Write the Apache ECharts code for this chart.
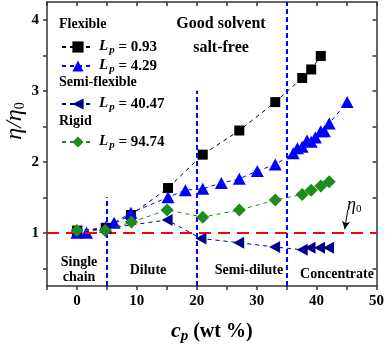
<!DOCTYPE html>
<html>
<head>
<meta charset="utf-8">
<script src="https://cdn.jsdelivr.net/npm/echarts@6/dist/echarts.min.js"></script>
<style>
html,body{margin:0;padding:0;background:#fff;}
#chart{width:387px;height:349px;}
</style>
</head>
<body>
<div id="chart"></div>
<script>
// ---- data ----
const seriesNames = ['Lp = 0.93', 'Lp = 4.29', 'Lp = 40.47', 'Lp = 94.74'];
const flexible093 = [[0,1.03],[4.8,1.07],[9,1.25],[15.2,1.63],[21,2.10],[27.1,2.44],[33.1,2.84],[37.6,3.18],[39.1,3.30],[40.7,3.49]];
const flexible429 = [[0,1.0],[1.6,1.0],[4.8,1.08],[6.2,1.14],[9,1.28],[15.2,1.50],[18.1,1.60],[21,1.62],[24.1,1.70],[27.1,1.76],[30.1,1.87],[33.1,1.96],[36.1,2.12],[36.8,2.19],[37.6,2.21],[38.4,2.30],[39.1,2.28],[39.8,2.34],[40.7,2.43],[41.3,2.43],[42.1,2.54],[45.1,2.84]];
const semiFlexible = [[0,1.02],[4.8,1.06],[15.05,1.18],[20.7,0.92],[27,0.86],[33,0.80],[37.6,0.76],[38.9,0.79],[40.5,0.79],[42,0.79]];
const rigid = [[0,1.03],[4.7,1.03],[9.1,1.15],[15.05,1.32],[21,1.22],[27.1,1.32],[33.1,1.46],[37.6,1.54],[39.1,1.60],[40.7,1.66],[42.1,1.72]];
const xTickValues = [-5,0,5,10,15,20,25,30,35,40,45,50];
const xLabelValues = [0,10,20,30,40,50];
const yTickValues = [0.5,1,1.5,2,2.5,3,3.5,4];
const yLabelValues = [1,2,3,4];
const regionBounds = [5, 20, 35];
const regionBoundTops = [1.5, 3.0, 4.25];
const eta0Level = 1;
const arrowFrom = [45.2, 1.32];
const arrowTo = [44.7, 1.05];

const FONT = '"Liberation Serif","Times New Roman",serif';
const chart = echarts.init(document.getElementById('chart'));

function legendFmt(name){
  const v = name.split('= ')[1];
  return '{i|L}{s|p}{n| = ' + v + '}';
}
const legendRich = {
  i:{fontFamily:FONT,fontWeight:'bold',fontStyle:'italic',fontSize:15,color:'#000',verticalAlign:'top',lineHeight:16},
  s:{fontFamily:FONT,fontWeight:'bold',fontStyle:'italic',fontSize:11,color:'#000',padding:[7,0,0,1],lineHeight:16},
  n:{fontFamily:FONT,fontWeight:'bold',fontSize:15,color:'#000',lineHeight:16}
};
const legendTops = [33, 52, 90, 128];
const legends = seriesNames.map((n, k) => ({
  data:[n], left:56, top:legendTops[k], itemWidth:32, itemHeight:14, itemGap:4,
  formatter: legendFmt, textStyle:{rich:legendRich}
}));

const axisLineStyle = {color:'#333', width:1.5};
const labelStyle = {fontFamily:FONT, fontWeight:'bold', fontSize:15, color:'#000'};

const boundLines = regionBounds.map((b,k)=>[{coord:[b,0.25]},{coord:[b,regionBoundTops[k]]}]);

chart.setOption({
  animation:false,
  backgroundColor:'#fff',
  grid:{left:47, right:9, top:2, bottom:59, containLabel:false},
  legend: legends,
  xAxis:[{
    type:'value', min:-5, max:50, position:'bottom',
    axisLine:{onZero:false, lineStyle:axisLineStyle},
    axisTick:{inside:false, length:4, lineStyle:axisLineStyle, customValues:xTickValues},
    axisLabel:Object.assign({margin:8, customValues:xLabelValues}, labelStyle),
    splitLine:{show:false},
    name:'{c|c}{p|p}{t| (wt %)}', nameLocation:'middle', nameGap:33,
    nameTextStyle:{rich:{
      c:{fontFamily:FONT,fontWeight:'bold',fontStyle:'italic',fontSize:22,color:'#000'},
      p:{fontFamily:FONT,fontWeight:'bold',fontStyle:'italic',fontSize:15,color:'#000',padding:[10,0,0,0]},
      t:{fontFamily:FONT,fontWeight:'bold',fontSize:20,color:'#000'}
    }}
  },{
    type:'value', min:-5, max:50, position:'top',
    axisLine:{onZero:false, lineStyle:axisLineStyle},
    axisTick:{inside:true, length:4, lineStyle:axisLineStyle, customValues:xTickValues},
    axisLabel:{show:false}, splitLine:{show:false}
  }],
  yAxis:[{
    type:'value', min:0.25, max:4.25, position:'left',
    axisLine:{show:true, onZero:false, lineStyle:axisLineStyle},
    axisTick:{show:true, inside:false, length:4, lineStyle:axisLineStyle, customValues:yTickValues},
    axisLabel:Object.assign({margin:8, customValues:yLabelValues}, labelStyle),
    splitLine:{show:false}
  },{
    type:'value', min:0.25, max:4.25, position:'right',
    axisLine:{show:true, onZero:false, lineStyle:axisLineStyle},
    axisTick:{show:true, inside:true, length:4, lineStyle:axisLineStyle, customValues:yTickValues},
    axisLabel:{show:false}, splitLine:{show:false}
  }],
  series:[
    {
      name:'guides', type:'line', data:[], silent:true,
      markLine:{
        silent:true, symbol:['none','none'], label:{show:false},
        lineStyle:{color:'#0000ff', type:[5,3], width:2},
        data: boundLines.concat([{yAxis:eta0Level, lineStyle:{color:'#ff0000', type:[12,7], width:2}}])
      }
    },
    {
      name:seriesNames[0], type:'line', data:flexible093, symbol:'rect', symbolSize:10,
      itemStyle:{color:'#000'}, lineStyle:{color:'#000', width:1, type:[4,4]}, z:3
    },
    {
      name:seriesNames[1], type:'line', data:flexible429, symbol:'triangle', symbolSize:[13,12],
      itemStyle:{color:'#0000ff'}, lineStyle:{color:'#0000ff', width:1, type:[4,4]}, z:4
    },
    {
      name:seriesNames[2], type:'line', data:semiFlexible, symbol:'triangle', symbolSize:[12,11], symbolRotate:90,
      itemStyle:{color:'#00008b'}, lineStyle:{color:'#00008b', width:1, type:[4,4]}, z:5
    },
    {
      name:seriesNames[3], type:'line', data:rigid, symbol:'diamond', symbolSize:[13,13],
      itemStyle:{color:'#1c8c1c'}, lineStyle:{color:'#1c8c1c', width:1, type:[4,4]}, z:6
    },
    {
      name:'arrow', type:'line', data:[], silent:true,
      markLine:{
        silent:true, symbol:['none','arrow'], symbolSize:[6,8], label:{show:false},
        lineStyle:{color:'#000', type:'solid', width:1},
        data:[[{coord:arrowFrom},{coord:arrowTo}]]
      }
    }
  ],
  graphic:[
    {type:'text', x:221, y:24, style:{text:'Good solvent', font:'bold 16px '+FONT, fill:'#000', align:'center', verticalAlign:'middle'}},
    {type:'text', x:221, y:48, style:{text:'salt-free', font:'bold 16px '+FONT, fill:'#000', align:'center', verticalAlign:'middle'}},
    {type:'text', x:59, y:24, style:{text:'Flexible', font:'bold 14px '+FONT, fill:'#000', align:'left', verticalAlign:'middle'}},
    {type:'text', x:59, y:82, style:{text:'Semi-flexible', font:'bold 14px '+FONT, fill:'#000', align:'left', verticalAlign:'middle'}},
    {type:'text', x:59, y:121, style:{text:'Rigid', font:'bold 14px '+FONT, fill:'#000', align:'left', verticalAlign:'middle'}},
    {type:'text', x:79, y:262, style:{text:'Single', font:'bold 14px '+FONT, fill:'#000', align:'center', verticalAlign:'middle'}},
    {type:'text', x:79, y:277, style:{text:'chain', font:'bold 14px '+FONT, fill:'#000', align:'center', verticalAlign:'middle'}},
    {type:'text', x:148, y:270, style:{text:'Dilute', font:'bold 14px '+FONT, fill:'#000', align:'center', verticalAlign:'middle'}},
    {type:'text', x:249, y:270, style:{text:'Semi-dilute', font:'bold 14px '+FONT, fill:'#000', align:'center', verticalAlign:'middle'}},
    {type:'text', x:337, y:274, style:{text:'Concentrate', font:'bold 14px '+FONT, fill:'#000', align:'center', verticalAlign:'middle'}},
    {type:'text', x:347, y:205, style:{text:'{a|η}{b|0}', align:'left', verticalAlign:'middle', rich:{
      a:{fontFamily:FONT, fontStyle:'italic', fontSize:18, fill:'#000'},
      b:{fontFamily:FONT, fontSize:11, fill:'#000', padding:[8,0,0,0]}
    }}},
    {type:'text', x:15, y:121, rotation:Math.PI/2, style:{text:'{a|η/η}{b|0}', align:'center', verticalAlign:'middle', rich:{
      a:{fontFamily:FONT, fontStyle:'italic', fontSize:24, fill:'#000'},
      b:{fontFamily:FONT, fontSize:14, fill:'#000', padding:[10,0,0,0]}
    }}}
  ]
});
</script>
</body>
</html>
